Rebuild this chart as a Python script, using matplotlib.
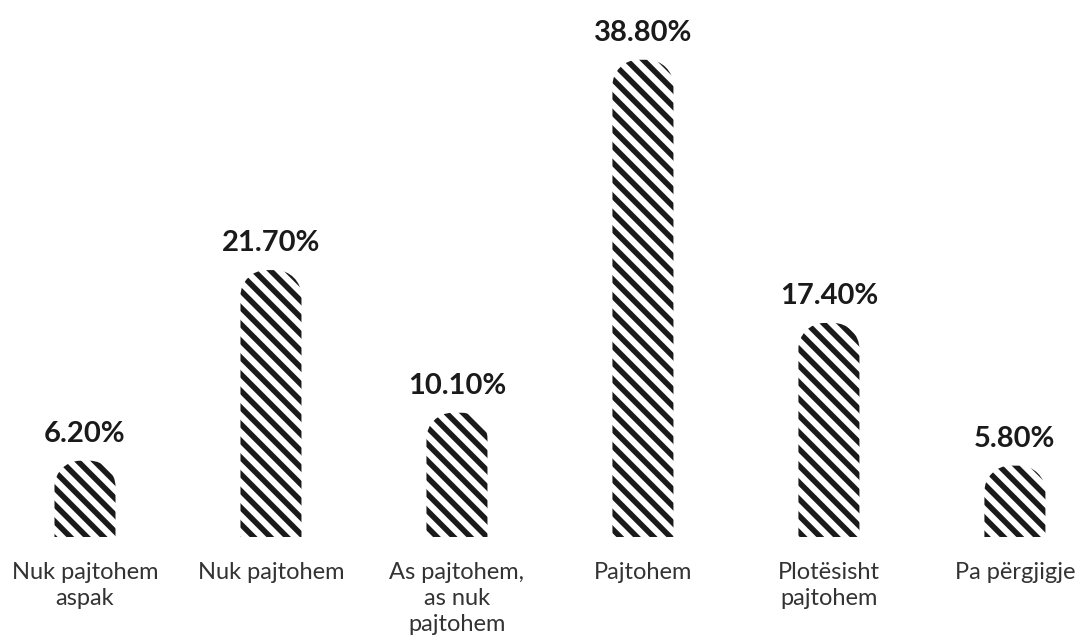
import numpy as np
import matplotlib
matplotlib.use("Agg")
import matplotlib.pyplot as plt
from matplotlib.path import Path
from matplotlib.patches import PathPatch

categories = ["Nuk pajtohem\naspak", "Nuk pajtohem", "As pajtohem,\nas nuk\npajtohem",
              "Pajtohem", "Plotësisht\npajtohem", "Pa përgjigje"]
values = [6.2, 21.7, 10.1, 38.8, 17.4, 5.8]
value_labels = ["6.20%", "21.70%", "10.10%", "38.80%", "17.40%", "5.80%"]

plt.rcParams['hatch.linewidth'] = 4.0

W, H = 1080, 643
fig = plt.figure(figsize=(W / 100, H / 100), dpi=100)
ax = fig.add_axes([0, 0, 1, 1])
x_lo, x_hi = -0.457, 5.35
y_lo, y_hi = -8.62, 43.66
ax.set_xlim(x_lo, x_hi)
ax.set_ylim(y_lo, y_hi)
ax.axis('off')

bar_w = 0.328
# pixels -> data units for the rounded top corners
px_x = (x_hi - x_lo) / W
px_y = (y_hi - y_lo) / H
r = 26
rx, ry = r * px_x, r * px_y
k = 0.5523


def rounded_top(x0, x1, h):
    ry_ = min(ry, h)
    verts = [(x0, 0), (x0, h - ry_),
             (x0, h - ry_ + k * ry_), (x0 + rx - k * rx, h), (x0 + rx, h),
             (x1 - rx, h),
             (x1 - rx + k * rx, h), (x1, h - ry_ + k * ry_), (x1, h - ry_),
             (x1, 0), (x0, 0)]
    codes = [Path.MOVETO, Path.LINETO,
             Path.CURVE4, Path.CURVE4, Path.CURVE4,
             Path.LINETO,
             Path.CURVE4, Path.CURVE4, Path.CURVE4,
             Path.LINETO, Path.CLOSEPOLY]
    return Path(verts, codes)


for i, (v, lab, cat) in enumerate(zip(values, value_labels, categories)):
    p = PathPatch(rounded_top(i - bar_w / 2, i + bar_w / 2, v),
                  facecolor='white', edgecolor='#1a1a1a', hatch='\\\\', lw=0)
    ax.add_patch(p)
    ax.annotate(lab, (i, v), xytext=(0, 10), textcoords='offset points',
                ha='center', va='bottom', fontsize=21, fontweight='bold',
                family='Lato', color='#1a1a1a')
    ax.annotate(cat, (i, 0), xytext=(0, -18), textcoords='offset points',
                ha='center', va='top', fontsize=17, fontweight='normal',
                family='Lato', color='#333333', linespacing=1.3)

fig.savefig('out.png', dpi=100)
